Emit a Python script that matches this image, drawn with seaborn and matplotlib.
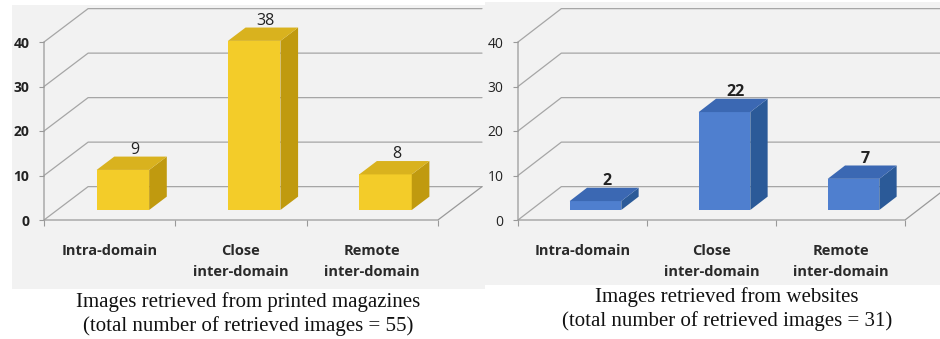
import pandas as pd
import matplotlib
matplotlib.use('Agg')
import matplotlib.pyplot as plt
from matplotlib.patches import Polygon, Rectangle
import seaborn as sns

# ── Data ──────────────────────────────────────────────────────────────────────
categories      = ['Intra-domain', 'Close\ninter-domain', 'Remote\ninter-domain']
magazine_counts = [9, 38, 8]
website_counts  = [2, 22, 7]
y_ticks         = [0, 10, 20, 30, 40]
magazine_caption = ['Images retrieved from printed magazines',
                    '(total number of retrieved images = 55)']
website_caption  = ['Images retrieved from websites',
                    '(total number of retrieved images = 31)']

# ── Style ─────────────────────────────────────────────────────────────────────
W, H = 940, 339
PX_PER_UNIT = 4.45          # vertical pixels per count
DX, DY = 0.336, 7.5         # depth of the 3-D box, in data units
BAR_FRONT, BAR_BACK = 0.3, 0.7
GRID = '#a6a6a6'
BG = '#f2f2f2'
YELLOW = ('#f3cc29', '#d9b21e', '#c09a0f')   # front, top, side
BLUE   = ('#4f7fcf', '#3b68b3', '#2b5a98')

sns.set_style('ticks')
plt.rcParams['font.family'] = ['Open Sans', 'DejaVu Sans']

fig = plt.figure(figsize=(W / 100, H / 100), dpi=100)
fig.patch.set_facecolor('white')

# grey chart areas
fig.add_artist(Rectangle((12 / W, 1 - 289 / H), (485 - 12) / W, (289 - 5) / H,
                         transform=fig.transFigure, facecolor=BG, edgecolor='none', zorder=0))
fig.add_artist(Rectangle((485 / W, 1 - 285 / H), (W - 485) / W, (285 - 2) / H,
                         transform=fig.transFigure, facecolor=BG, edgecolor='none', zorder=0))


def draw_panel(left_px, cat_px, counts, colors, tick_weight, value_weight):
    xmax = 2.5 + DX + 0.02
    ymax = 48
    ax = fig.add_axes([left_px / W, (H - 220) / H,
                       (xmax + 0.5) * cat_px / W, ymax * PX_PER_UNIT / H])
    df = pd.DataFrame({'category': categories, 'count': counts})
    sns.barplot(data=df, x='category', y='count', color=colors[0], saturation=1,
                width=0.4, errorbar=None, linewidth=0, zorder=3, ax=ax)
    ax.set_xlim(-0.5, xmax)
    ax.set_ylim(0, ymax)
    ax.set_facecolor('none')
    for s in ax.spines.values():
        s.set_visible(False)
    ax.set_xlabel('')
    ax.set_ylabel('')

    # walls and floor
    for v in y_ticks:
        ax.plot([-0.5, -0.5 + DX, 2.5 + DX], [v, v + DY, v + DY],
                color=GRID, lw=0.9, zorder=1, clip_on=False)
    ax.plot([-0.5, -0.5, 2.5, 2.5 + DX], [40, 0, 0, DY],
            color='#999999', lw=0.9, zorder=2, clip_on=False)

    # 3-D bars
    bdx = (BAR_BACK - BAR_FRONT) * DX
    bdy = (BAR_BACK - BAR_FRONT) * DY
    for bar, n in zip(list(ax.patches), counts):
        bar.set_x(bar.get_x() + BAR_FRONT * DX)
        bar.set_y(bar.get_y() + BAR_FRONT * DY)
        x0, y0 = bar.get_x(), bar.get_y()
        w, h = bar.get_width(), bar.get_height()
        side = Polygon([(x0 + w, y0), (x0 + w + bdx, y0 + bdy),
                        (x0 + w + bdx, y0 + h + bdy), (x0 + w, y0 + h)],
                       facecolor=colors[2], edgecolor='none', zorder=3)
        top = Polygon([(x0, y0 + h), (x0 + bdx, y0 + h + bdy),
                       (x0 + w + bdx, y0 + h + bdy), (x0 + w, y0 + h)],
                      facecolor=colors[1], edgecolor='none', zorder=3)
        ax.add_patch(side)
        ax.add_patch(top)
        ax.text(x0 + w / 2 + bdx * 0.65, y0 + h + bdy + 0.6, str(n),
                ha='center', va='baseline', fontsize=11.5,
                fontweight=value_weight, color='#222222', zorder=4)

    # ticks
    ax.set_yticks(y_ticks)
    ax.set_yticklabels([str(v) for v in y_ticks], fontweight=tick_weight)
    ax.tick_params(axis='y', left=True, length=3.5, width=0.8, color='#999999',
                   pad=7, labelsize=10, labelcolor='#222222')
    ax.set_xticks([0, 1, 2])
    ax.set_xticklabels(categories, fontsize=10.5, fontweight='bold', linespacing=1.6)
    ax.set_xticks([-0.5, 0.5, 1.5, 2.5], minor=True)
    ax.tick_params(axis='x', which='major', length=0, pad=17.5, labelcolor='#2a2a2a')
    ax.tick_params(axis='x', which='minor', bottom=True, length=4, width=0.8,
                   color='#999999', direction='out')
    return ax


draw_panel(44, 131.3, magazine_counts, YELLOW, 'bold', 'normal')
draw_panel(518, 129.0, website_counts, BLUE, 'normal', 'bold')

# captions
for text, y in zip(magazine_caption, [302, 326]):
    fig.text(248 / W, 1 - y / H, text, ha='center', va='center',
             family='Liberation Serif', fontsize=15, color='#111111')
for text, y in zip(website_caption, [297, 321]):
    fig.text(727 / W, 1 - y / H, text, ha='center', va='center',
             family='Liberation Serif', fontsize=15, color='#111111')

fig.savefig('out.png', dpi=100)
plt.close(fig)
